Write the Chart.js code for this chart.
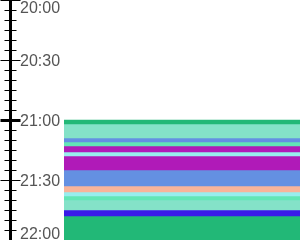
<!DOCTYPE html>
<html>
<head>
<meta charset="utf-8">
<script src="https://cdn.jsdelivr.net/npm/chart.js@4"></script>
<style>
  html, body { margin: 0; padding: 0; background: #fff; }
  #wrap { width: 300px; height: 240px; }
</style>
</head>
<body>
<div id="wrap"><canvas id="myChart"></canvas></div>
<script>
const categories = ['Evening'];
const segmentStarts = ['21:00', '21:02', '21:09', '21:11', '21:13', '21:16', '21:18', '21:25', '21:33', '21:36', '21:38', '21:40', '21:45', '21:48'];
const segmentEnds = ['21:02', '21:09', '21:11', '21:13', '21:16', '21:18', '21:25', '21:33', '21:36', '21:38', '21:40', '21:45', '21:48', '22:00'];
const segmentColors = ['#22b877', '#84e2c8', '#6490e2', '#62e6b6', '#b01ab8', '#98eeee', '#b01ab8', '#6490e2', '#f8b49a', '#98eeee', '#62e6b6', '#84e2c8', '#3a1ae8', '#22b877'];
const tickLabels = ['20:00', '20:30', '21:00', '21:30', '22:00'];

function toMinutes(t) {
  const [h, m] = t.split(':').map(Number);
  return h * 60 + m;
}
function toClock(v) {
  return Math.floor(v / 60) + ':' + String(v % 60).padStart(2, '0');
}

const firstTick = toMinutes(tickLabels[0]);
const lastTick = toMinutes(tickLabels[tickLabels.length - 1]);

// tick marks drawn across the axis line
const tickMarks = {
  id: 'tickMarks',
  afterDraw(chart) {
    const scale = chart.scales.y;
    const ctx = chart.ctx;
    const axisX = scale.right + 0.5;
    ctx.save();
    ctx.strokeStyle = '#000';
    scale.ticks.forEach(tick => {
      const label = toClock(tick.value);
      const y = Math.round(scale.getPixelForValue(tick.value)) + 0.5;
      const half = tickLabels.includes(label) ? 10 : 6;
      ctx.lineWidth = label === segmentStarts[0] ? 3 : 1;
      ctx.beginPath();
      ctx.moveTo(axisX - half, y);
      ctx.lineTo(axisX + half, y);
      ctx.stroke();
    });
    ctx.restore();
  }
};

const ctx = document.getElementById('myChart').getContext('2d');
const chart = new Chart(ctx, {
  type: 'bar',
  data: {
    labels: categories,
    datasets: segmentStarts.map((start, i) => ({
      data: [[toMinutes(start), toMinutes(segmentEnds[i])]],
      backgroundColor: segmentColors[i],
      borderWidth: 0,
      grouped: false,
      barPercentage: 1,
      categoryPercentage: 1
    }))
  },
  options: {
    responsive: true,
    maintainAspectRatio: false,
    animation: false,
    layout: { padding: 0 },
    plugins: {
      legend: { display: false },
      tooltip: { enabled: false }
    },
    scales: {
      x: { display: false },
      y: {
        type: 'linear',
        position: 'left',
        weight: 10,
        reverse: true,
        min: firstTick,
        max: lastTick,
        border: { color: '#000', width: 3 },
        grid: { drawOnChartArea: false, drawTicks: false },
        ticks: {
          stepSize: 5,
          autoSkip: false,
          mirror: true,
          padding: 10,
          labelOffset: 2,
          color: '#555',
          font: { family: 'Liberation Sans', size: 16, lineHeight: 0.875 },
          callback(value) {
            const label = toClock(value);
            if (!tickLabels.includes(label)) return '';
            if (value === firstTick) return ['', label];
            if (value === lastTick) return [label, ''];
            return label;
          }
        },
        afterFit(scale) {
          scale.width = 10;
          scale.paddingTop = 0;
          scale.paddingBottom = 0;
        }
      },
      spacer: {
        type: 'linear',
        position: 'left',
        weight: 0,
        grid: { display: false },
        border: { display: false },
        ticks: { display: false },
        afterFit(scale) {
          scale.width = 54;
        }
      }
    }
  },
  plugins: [tickMarks]
});
</script>
</body>
</html>
